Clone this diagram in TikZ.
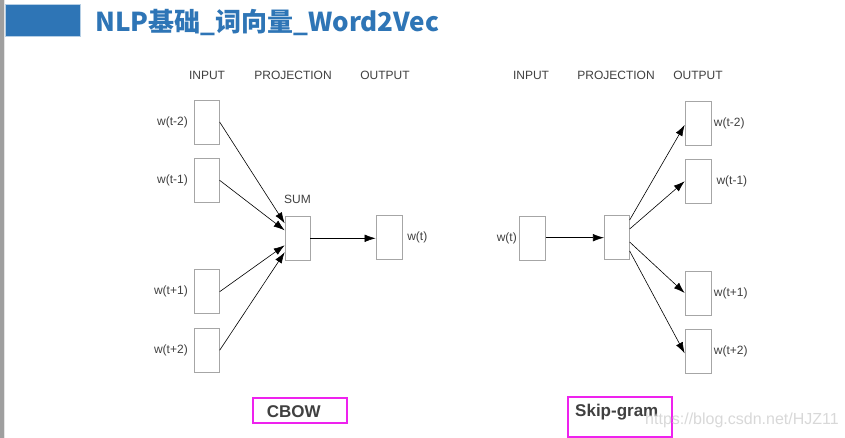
\documentclass[tikz,border=0pt]{standalone}
\usepackage{fontspec}
\setmainfont{Liberation Sans}
\newfontfamily\cjk{Noto Sans CJK SC}
\usetikzlibrary{positioning,arrows.meta}
\definecolor{titleblue}{RGB}{46,117,182}
\definecolor{tagpink}{RGB}{238,34,238}
\definecolor{inkgray}{RGB}{64,64,64}

\begin{document}
\begin{tikzpicture}[
  x=1pt, y=-1pt,
  unit/.style={draw=gray!70, line width=0.7pt, minimum width=25pt, minimum height=44pt, inner sep=0pt},
  lbl/.style={text=inkgray, font=\fontsize{12}{14}\selectfont, inner sep=1pt},
  flow/.style={line width=0.6pt, -{Latex[length=11pt,width=7.5pt]}},
  tagtext/.style={text=inkgray, font=\fontsize{17}{20}\selectfont\bfseries, inner sep=0pt},
  tagbox/.style={draw=tagpink, line width=2pt},
]

\useasboundingbox [fill=white] (0,0) rectangle (845,438);
\fill [gray!75] (0,0) rectangle (4,438);
\fill [gray!20] (4,0) rectangle (5,438);
\filldraw [fill=titleblue, draw=titleblue!35] (5.5,4.5) rectangle (80,36.5);
\node [anchor=base west, inner sep=0pt, text=titleblue, font=\cjk\bfseries\fontsize{26}{30}\selectfont] (title) at (95,32) {NLP基础\_词向量\_Word2Vec};

% CBOW
\node [lbl] (chin) at (207,75) {INPUT};
\node [lbl] (chproj) at (293,75) {PROJECTION};
\node [lbl] (chout) at (385,75) {OUTPUT};

\node [unit] (c1) at (206.8,122) {};
\node [unit] (c2) at (206.8,180.3) {};
\node [unit] (c3) at (206.8,291.7) {};
\node [unit] (c4) at (206.8,350.3) {};
\node [lbl, left=5pt of c1] (lc1) {w(t-2)};
\node [lbl, left=5pt of c2] (lc2) {w(t-1)};
\node [lbl, left=5pt of c3] (lc3) {w(t+1)};
\node [lbl, left=5pt of c4] (lc4) {w(t+2)};

\node [unit] (csum) at (297.5,238.3) {};
\node [lbl, above=11pt of csum] (lsum) {SUM};
\node [unit, minimum width=26pt] (cout) at (389,237.7) {};
\node [lbl, right=3.7pt of cout] (lcout) {w(t)};

\draw [flow] (c1.east) -- ([yshift=15pt]csum.west);
\draw [flow] (c2.east) -- ([yshift=8pt]csum.west);
\draw [flow] (c3.east) -- ([yshift=-7pt]csum.west);
\draw [flow] (c4.east) -- ([yshift=-14pt]csum.west);
\draw [flow] (csum.east) -- (csum.east -| cout.west);

% Skip-gram
\node [lbl] (shin) at (531,75) {INPUT};
\node [lbl] (shproj) at (616,75) {PROJECTION};
\node [lbl] (shout) at (698,75) {OUTPUT};

\node [unit, minimum width=26pt] (sin) at (532.3,238) {};
\node [lbl, left=1pt of sin] (lsin) {w(t)};
\node [unit] (sproj) at (616.8,237.7) {};

\node [unit, minimum width=26pt] (s1) at (698,123.3) {};
\node [unit, minimum width=26pt] (s2) at (698,181.3) {};
\node [unit, minimum width=26pt] (s3) at (698,293) {};
\node [unit, minimum width=26pt] (s4) at (698,351) {};
\node [lbl, right=1.3pt of s1] (ls1) {w(t-2)};
\node [lbl, right=4pt of s2] (ls2) {w(t-1)};
\node [lbl, right=1.3pt of s3] (ls3) {w(t+1)};
\node [lbl, right=1.3pt of s4] (ls4) {w(t+2)};

\draw [flow] (sin.east |- sproj.west) -- (sproj.west);
\draw [flow] ([yshift=17.7pt]sproj.east) -- ([yshift=-1.7pt]s1.west);
\draw [flow] ([yshift=8.7pt]sproj.east) -- (s2.west);
\draw [flow] ([yshift=-4.3pt]sproj.east) -- (s3.west);
\draw [flow] ([yshift=-13.3pt]sproj.east) -- ([yshift=-2.3pt]s4.west);

% tags
\node [tagtext, anchor=base west] (cbow) at (266.7,417.3) {CBOW};
\draw [tagbox] (252.7,397.7) rectangle (347.3,422.7);
\node [tagtext, anchor=base west] (skip) at (575,416.7) {Skip-gram};
\draw [tagbox] (568.3,397.3) rectangle (672.3,436.7);
\node [anchor=base west, inner sep=0pt, text=gray!35, opacity=0.85, font=\fontsize{16}{18}\selectfont] (mark) at (645,424.5) {https://blog.csdn.net/HJZ11};

\end{tikzpicture}
\end{document}
